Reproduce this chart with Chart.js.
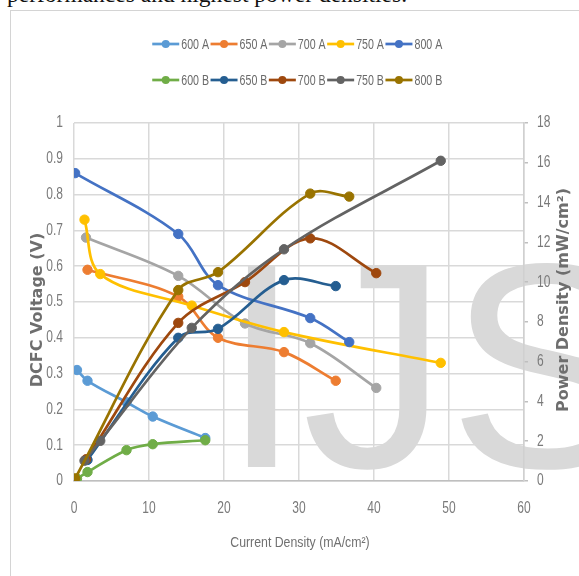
<!DOCTYPE html>
<html>
<head>
<meta charset="utf-8">
<script src="https://cdn.jsdelivr.net/npm/chart.js@4.4.1/dist/chart.umd.min.js"></script>
<style>
  html, body { margin: 0; padding: 0; background: #fff; }
  body { width: 579px; height: 576px; position: relative; overflow: hidden; }
  #caption { position: absolute; left: 7px; top: -17px; font: 23.5px/23.5px "Liberation Serif", "Times New Roman", serif; color: #111; white-space: nowrap; }
  #frame { position: absolute; left: 10px; top: 10px; width: 620px; height: 620px; border: 1px solid #d4d4d4; }
  #mark { position: absolute; left: 221px; top: 220px; font: 292px/292px "Liberation Sans", Arial, sans-serif; color: #d9d9d9; white-space: nowrap; pointer-events: none; }
  #chart { position: absolute; left: 0; top: 0; }
</style>
</head>
<body>
<div id="caption">performances and highest power densities.</div>
<div id="frame"></div>
<div id="mark">IJS</div>
<canvas id="chart" width="579" height="576"></canvas>
<script>
const plainFont = '"Liberation Sans", Arial, sans-serif';

const temps = ['600', '650', '700', '750', '800'];
const colorsA = ['#5B9BD5', '#ED7D31', '#A5A5A5', '#FFC000', '#4472C4'];
const colorsB = ['#70AD47', '#255E91', '#9E480E', '#636363', '#997300'];

// current density, mA/cm2
const current600 = [0.4, 1.8, 7.0, 10.5, 17.5];
const current650 = [1.8, 13.9, 19.2, 28.0, 34.9];
const current700 = [1.6, 13.9, 22.8, 31.5, 40.3];
const current750 = [1.4, 3.5, 15.7, 28.0, 48.9];
const current800 = [0.15, 13.9, 19.2, 31.5, 36.7];

// cell voltage, V (series A)
const voltage600 = [0.31, 0.28, 0.22, 0.18, 0.12];
const voltage650 = [0.59, 0.515, 0.40, 0.36, 0.28];
const voltage700 = [0.68, 0.573, 0.44, 0.385, 0.26];
const voltage750 = [0.73, 0.578, 0.49, 0.416, 0.33];
const voltage800 = [0.86, 0.69, 0.547, 0.455, 0.388];

// power density, mW/cm2 (series B)
const power600 = [0.12, 0.45, 1.55, 1.85, 2.05];
const power650 = [1.06, 7.2, 7.65, 10.1, 9.8];
const power700 = [1.09, 7.95, 10.0, 12.2, 10.45];
const power750 = [1.02, 2.02, 7.7, 11.65, 16.1];
const power800 = [0.13, 9.6, 10.5, 14.45, 14.3];

const currents = [current600, current650, current700, current750, current800];
const voltages = [voltage600, voltage650, voltage700, voltage750, voltage800];
const powers = [power600, power650, power700, power750, power800];

const voltTicks = [0, 0.1, 0.2, 0.3, 0.4, 0.5, 0.6, 0.7, 0.8, 0.9, 1];
const powerTicks = [0, 2, 4, 6, 8, 10, 12, 14, 16, 18];
const currentTicks = [0, 10, 20, 30, 40, 50, 60];

function makeSet(label, color, xs, ys, axis, order) {
    return {
        label: label,
        data: xs.map((x, i) => ({ x: x, y: ys[i] })),
        yAxisID: axis,
        borderColor: color,
        backgroundColor: color,
        pointBackgroundColor: color,
        pointBorderColor: color,
        borderWidth: 2.7,
        pointRadius: 4.7,
        pointBorderWidth: 1,
        tension: 0.35,
        order: order
    };
}

const datasets = [];
temps.forEach((t, i) => datasets.push(makeSet(t + ' A', colorsA[i], currents[i], voltages[i], 'y', 20 - i)));
temps.forEach((t, i) => datasets.push(makeSet(t + ' B', colorsB[i], currents[i], powers[i], 'y1', 15 - i)));

const legendRows = [[0, 1, 2, 3, 4], [5, 6, 7, 8, 9]];
const legendY = [44, 80];

// the original uses a condensed face, so text is squeezed sideways
function narrowText(ctx, text, x, y, align, squeeze) {
    const w = ctx.measureText(text).width * squeeze;
    let left = x;
    if (align === 'center') left = x - w / 2;
    if (align === 'right') left = x - w;
    ctx.save();
    ctx.textAlign = 'left';
    ctx.translate(left, y);
    ctx.scale(squeeze, 1);
    ctx.fillText(text, 0, 0);
    ctx.restore();
}

const extras = {
    id: 'extras',
    afterDraw(chart) {
        const ctx = chart.ctx;
        const sets = chart.data.datasets;
        const sx = chart.scales.x, sy = chart.scales.y, sy1 = chart.scales.y1;
        ctx.save();
        ctx.textBaseline = 'middle';

        // legend
        ctx.font = '14px ' + plainFont;
        legendRows.forEach((row, r) => {
            const widths = row.map(i => 27 + 2 + ctx.measureText(sets[i].label).width * 0.76 + 1.5);
            const total = widths.reduce((a, b) => a + b, 0);
            let x = 298 - total / 2;
            const y = legendY[r];
            row.forEach((i, k) => {
                const c = sets[i].borderColor;
                ctx.strokeStyle = c;
                ctx.lineWidth = 2.7;
                ctx.beginPath();
                ctx.moveTo(x, y);
                ctx.lineTo(x + 27, y);
                ctx.stroke();
                ctx.fillStyle = c;
                ctx.beginPath();
                ctx.arc(x + 13.5, y, 4, 0, Math.PI * 2);
                ctx.fill();
                ctx.fillStyle = '#6a6a6a';
                narrowText(ctx, sets[i].label, x + 29, y + 1, 'left', 0.76);
                x += widths[k];
            });
        });

        // tick labels
        ctx.fillStyle = '#7a7a7a';
        ctx.font = '16px ' + plainFont;
        currentTicks.forEach(v => narrowText(ctx, String(v), sx.getPixelForValue(v), 509, 'center', 0.75));
        voltTicks.forEach(v => narrowText(ctx, String(v), 63, sy.getPixelForValue(v), 'right', 0.75));
        powerTicks.forEach(v => narrowText(ctx, String(v), 537, sy1.getPixelForValue(v), 'left', 0.75));

        // axis titles
        ctx.textBaseline = 'alphabetic';
        ctx.textAlign = 'center';
        ctx.fillStyle = '#6e6e6e';
        ctx.font = 'bold 16px "DejaVu Sans", sans-serif';
        ctx.save();
        ctx.translate(42, 310);
        ctx.rotate(-Math.PI / 2);
        ctx.fillText('DCFC Voltage (V)', 0, 0);
        ctx.restore();
        ctx.save();
        ctx.translate(568, 300);
        ctx.rotate(-Math.PI / 2);
        ctx.fillText('Power Density (mW/cm²)', 0, 0);
        ctx.restore();
        ctx.textBaseline = 'middle';
        ctx.fillStyle = '#707070';
        ctx.font = '15px ' + plainFont;
        narrowText(ctx, 'Current Density (mA/cm²)', 300, 543, 'center', 0.82);
        ctx.restore();
    }
};

new Chart(document.getElementById('chart').getContext('2d'), {
    type: 'line',
    data: { datasets: datasets },
    options: {
        responsive: false,
        animation: false,
        devicePixelRatio: 1,
        layout: { padding: { top: 123, left: 0, right: 0, bottom: 0 } },
        plugins: { legend: { display: false }, tooltip: { enabled: false } },
        scales: {
            x: {
                type: 'linear',
                min: 0,
                max: 60,
                afterFit: s => { s.height = 95; },
                afterBuildTicks: s => { s.ticks = currentTicks.map(v => ({ value: v })); },
                grid: { color: '#d9d9d9', lineWidth: 1.5, drawTicks: false },
                border: { color: '#bfbfbf', width: 1.5 },
                ticks: { display: false }
            },
            y: {
                position: 'left',
                min: 0,
                max: 1,
                afterFit: s => { s.width = 74; },
                afterBuildTicks: s => { s.ticks = voltTicks.map(v => ({ value: v })); },
                grid: { color: '#d9d9d9', lineWidth: 1.5, drawTicks: false },
                border: { display: false },
                ticks: { display: false }
            },
            y1: {
                position: 'right',
                min: 0,
                max: 18,
                afterFit: s => { s.width = 55; },
                afterBuildTicks: s => { s.ticks = powerTicks.map(v => ({ value: v })); },
                grid: { drawOnChartArea: false, color: '#bfbfbf', tickLength: 4, lineWidth: 1.5 },
                border: { color: '#d0d0d0', width: 1.5 },
                ticks: { display: false }
            }
        }
    },
    plugins: [extras]
});
</script>
</body>
</html>
